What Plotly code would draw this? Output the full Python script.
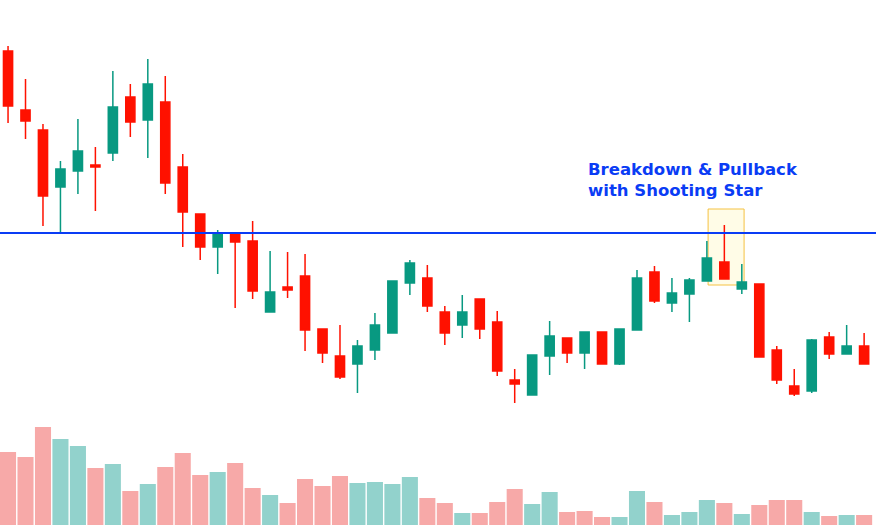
import plotly.graph_objects as go

# candle values (price units = inverted pixel rows)
opens_px = [51, 110, 130, 187, 171, 165, 153, 97, 120, 102,
            167, 214, 247, 233, 241, 312, 287, 276, 329, 356,
            364, 350, 333, 283, 278, 312, 325, 299, 322, 380,
            395, 356, 338, 353, 332, 364, 330, 272, 303, 294,
            281, 262, 289, 284, 350, 386, 391, 337, 354, 346]
closes_px = [106, 121, 196, 169, 151, 167, 107, 122, 84, 183,
             212, 247, 233, 242, 291, 292, 290, 330, 353, 377,
             346, 325, 281, 263, 306, 333, 312, 329, 371, 384,
             355, 336, 353, 332, 364, 329, 278, 301, 293, 280,
             258, 279, 282, 357, 380, 394, 340, 354, 346, 364]
highs_px = [46, 79, 124, 161, 119, 147, 71, 84, 59, 76,
            154, 214, 230, 233, 221, 251, 252, 254, 329, 325,
            340, 313, 281, 260, 265, 306, 295, 299, 311, 369,
            355, 321, 338, 332, 332, 329, 270, 266, 278, 278,
            241, 225, 264, 284, 346, 369, 339, 332, 325, 333]
lows_px = [123, 139, 226, 233, 194, 211, 161, 137, 158, 194,
           247, 260, 274, 308, 299, 312, 298, 351, 363, 379,
           393, 360, 333, 295, 312, 345, 338, 339, 376, 403,
           395, 375, 363, 369, 364, 365, 330, 303, 312, 322,
           281, 279, 294, 357, 384, 396, 393, 359, 354, 364]
volume_top_px = [452, 457, 427, 439, 446, 468, 464, 491, 484, 467,
                 453, 475, 472, 463, 488, 495, 503, 479, 486, 476,
                 483, 482, 484, 477, 498, 503, 513, 513, 502, 489,
                 504, 492, 512, 511, 517, 517, 491, 502, 515, 512,
                 500, 503, 514, 505, 500, 500, 512, 516, 515, 515]
vol_up = [0, 0, 0, 1, 1, 0, 1, 0, 1, 0,
          0, 0, 1, 0, 0, 1, 0, 0, 0, 0,
          1, 1, 1, 1, 0, 0, 1, 0, 0, 0,
          1, 1, 0, 0, 0, 1, 1, 0, 1, 1,
          1, 0, 1, 0, 0, 0, 1, 0, 1, 0]

H = 528
opens = [H - v for v in opens_px]
closes = [H - v for v in closes_px]
highs = [H - v for v in highs_px]
lows = [H - v for v in lows_px]
volume = [525 - v for v in volume_top_px]
idx = list(range(len(opens)))

level = H - 233
box_x = [40.07, 42.13]
box_y = [H - 285, H - 209]

RED = '#ff1100'
GREEN = '#089981'

fig = go.Figure()

fig.add_trace(go.Bar(
    x=idx, y=volume, yaxis='y2',
    marker=dict(color=['#92d2cc' if u else '#f7a9a8' for u in vol_up], line_width=0),
    showlegend=False
))

fig.add_trace(go.Candlestick(
    x=idx, open=opens, high=highs, low=lows, close=closes,
    increasing=dict(line=dict(color=GREEN, width=1.5), fillcolor=GREEN),
    decreasing=dict(line=dict(color=RED, width=1.5), fillcolor=RED),
    whiskerwidth=0, showlegend=False
))

fig.add_hline(y=level, line=dict(color='#0a3cf5', width=2))

fig.add_shape(type='rect', x0=box_x[0], x1=box_x[1], y0=box_y[0], y1=box_y[1],
              line=dict(color='#f5c242', width=1), fillcolor='rgba(255,250,215,0.6)',
              layer='below')

fig.add_annotation(
    x=33.08, y=H - 158, xanchor='left', yanchor='top', showarrow=False, align='left',
    text='<b>Breakdown & Pullback<br>with Shooting Star</b>',
    font=dict(family='DejaVu Sans', size=16.5, color='#0a3cf5')
)

fig.update_layout(
    width=876, height=528,
    margin=dict(l=0, r=0, t=0, b=0),
    plot_bgcolor='white', paper_bgcolor='white',
    bargap=0.08, boxgap=0.25,
    xaxis=dict(range=[-0.46, 49.68], visible=False, rangeslider=dict(visible=False)),
    yaxis=dict(range=[0, H], visible=False),
    yaxis2=dict(range=[-3, 525], overlaying='y', visible=False),
)

fig.write_html("out.html", config={'displayModeBar': False},
               post_script="document.body.style.margin='0';")
